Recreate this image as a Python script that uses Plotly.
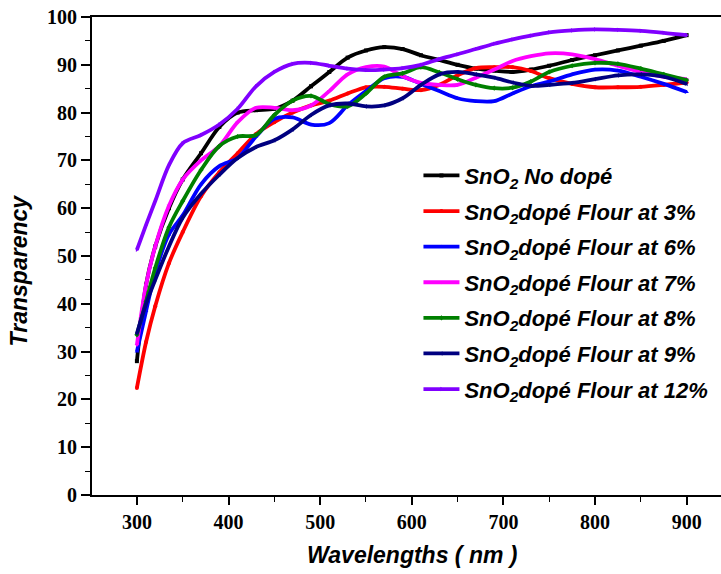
import plotly.graph_objects as go

# Wavelength grid (nm)
wavelength = [300, 310, 320, 335, 350, 370, 390, 410, 430, 450, 470, 490, 510,
              530, 550, 570, 590, 610, 630, 650, 670, 690, 710, 730, 750, 775,
              800, 825, 850, 875, 900]

# Transparency (%) for each film
t_undoped = [28, 44, 52, 60, 66, 71.5, 77, 80, 80.5, 80.8, 82.5, 85.5, 88.5,
             91.5, 93, 93.7, 93.3, 92, 91, 90, 89.2, 88.8, 88.5, 89, 89.8, 91,
             92, 93, 94, 95, 96.2]
t_f3 = [22.4, 32, 39.5, 48.5, 55, 62.5, 67.5, 71.5, 75.5, 78, 80, 81.5, 82.5,
        84, 85.3, 85.4, 85, 84.7, 85.8, 87.8, 89.3, 89.5, 89.5, 88.7, 87.2, 86,
        85.3, 85.3, 85.4, 85.8, 86.3]
t_f6 = [30, 38.5, 46.5, 54.5, 58.5, 65, 68.8, 70.5, 75, 78.7, 79, 77.5, 77.8,
        81.5, 84.5, 87.2, 87.5, 86, 84.5, 83, 82.4, 82.4, 84, 85.5, 86.5, 88,
        89, 88.8, 87.5, 86, 84.3]
t_f7 = [31.4, 44, 52, 60.5, 66, 70, 73, 78, 81, 81, 80.5, 81.5, 84.5, 88,
        89.5, 89.6, 87.6, 86.2, 85.8, 85.8, 87.3, 89, 90.8, 91.8, 92.4, 92.2,
        91.2, 89.8, 88.5, 87.5, 87]
t_f8 = [33.5, 40.5, 47.5, 56, 61.5, 68, 73, 75, 75.3, 79.5, 82.5, 83.5, 81.8,
        81.3, 84, 87.5, 88.2, 89.5, 88.4, 87, 85.8, 85.1, 85.2, 86.5, 88.5,
        89.8, 90.4, 90.2, 89.2, 88, 86.8]
t_f9 = [33.8, 40, 45, 52, 58, 63, 67, 70.5, 72.8, 74.2, 76.5, 79.5, 81.5,
        81.9, 81.3, 81.5, 83, 85.8, 88, 88.5, 88, 87.3, 86.3, 85.6, 85.8, 86.2,
        87, 87.8, 88, 87.5, 86]
t_f12 = [51.3, 56.5, 61.5, 69, 73.6, 75.3, 77.5, 80.8, 85.5, 88.5, 90.2, 90.4,
         89.8, 89.2, 88.9, 89, 89.3, 90, 91.2, 92.2, 93.3, 94.4, 95.3, 96.1,
         96.8, 97.2, 97.4, 97.3, 97.1, 96.7, 96.2]

series_names = [
    "SnO<sub>2</sub> No dopé",
    "SnO<sub>2</sub>dopé Flour at 3%",
    "SnO<sub>2</sub>dopé Flour at 6%",
    "SnO<sub>2</sub>dopé Flour at 7%",
    "SnO<sub>2</sub>dopé Flour at 8%",
    "SnO<sub>2</sub>dopé Flour at 9%",
    "SnO<sub>2</sub>dopé Flour at 12%",
]
series_values = [t_undoped, t_f3, t_f6, t_f7, t_f8, t_f9, t_f12]
series_colors = ["#000000", "#FF0000", "#0000FF", "#FF00FF", "#008000",
                 "#000080", "#8000FF"]
series_symbols = ["square", "circle", "triangle-up", "triangle-down",
                  "diamond", "triangle-left", "triangle-right"]

fig = go.Figure()
for i, (name, vals, col, sym) in enumerate(
        zip(series_names, series_values, series_colors, series_symbols)):
    fig.add_trace(go.Scatter(
        x=wavelength, y=vals, name=name,
        mode="lines+markers",
        line=dict(color=col, width=3.8, shape="spline", smoothing=0.9),
        marker=dict(symbol=sym, size=4, color=col),
        legendgroup=f"g{i}",
    ))

axis_font = dict(family="Liberation Serif", size=20, color="black",
                 weight="bold")
title_font = dict(family="Liberation Sans", size=23, color="black",
                  weight="bold", style="italic")

fig.update_layout(
    width=721, height=574,
    margin=dict(l=92, r=0, t=17, b=79),
    paper_bgcolor="white", plot_bgcolor="white",
    showlegend=True,
    legend=dict(
        x=0.519, y=0.712, xanchor="left", yanchor="top",
        bgcolor="rgba(0,0,0,0)",
        font=dict(family="Liberation Sans", size=22, color="black",
                  weight="bold", style="italic"),
        tracegroupgap=4,
        traceorder="grouped",
        itemwidth=36,
    ),
    xaxis=dict(
        range=[251, 937.5], tick0=300, dtick=100,
        showgrid=False, zeroline=False,
        showline=True, linecolor="black", linewidth=1.8, mirror=True,
        ticks="outside", ticklen=8, tickwidth=1.6, tickcolor="black",
        minor=dict(dtick=50, tick0=300, ticks="outside", ticklen=5,
                   tickwidth=1.4, tickcolor="black", showgrid=False),
        tickfont=axis_font,
    ),
    yaxis=dict(
        range=[0, 100], tick0=0, dtick=10,
        showgrid=False, zeroline=False,
        showline=True, linecolor="black", linewidth=1.8, mirror=False,
        ticks="outside", ticklen=9, tickwidth=1.6, tickcolor="black",
        minor=dict(dtick=5, ticks="outside", ticklen=5, tickwidth=1.4,
                   tickcolor="black", showgrid=False),
        tickfont=axis_font,
    ),
    annotations=[
        dict(text="Wavelengths ( nm )", xref="paper", yref="paper",
             x=0.509, y=-0.126, xanchor="center", yanchor="middle",
             showarrow=False, font=title_font),
        dict(text="Transparency", xref="paper", yref="paper",
             x=-0.116, y=0.47, xanchor="center", yanchor="middle",
             textangle=-90, showarrow=False, font=title_font),
    ],
)

fig.write_html("out.html")
